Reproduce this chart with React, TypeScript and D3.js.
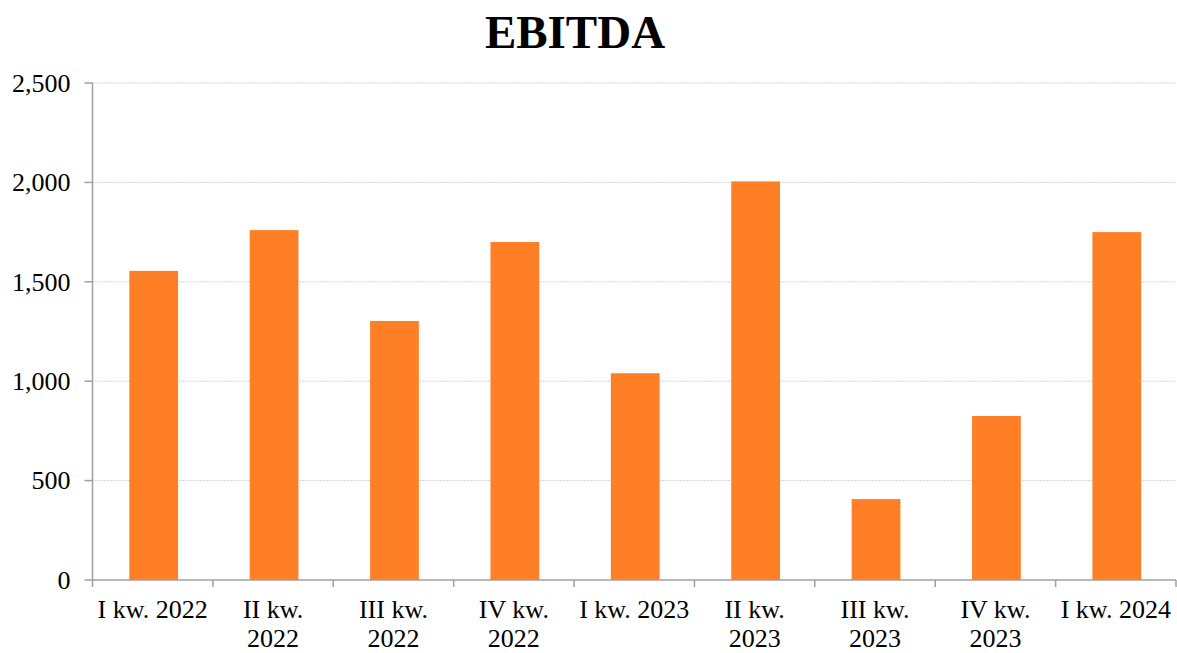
import React from 'react';
import * as d3 from 'd3';

const categories = [
  'I kw. 2022',
  'II kw. 2022',
  'III kw. 2022',
  'IV kw. 2022',
  'I kw. 2023',
  'II kw. 2023',
  'III kw. 2023',
  'IV kw. 2023',
  'I kw. 2024',
];
const ebitda = [1555, 1760, 1303, 1700, 1040, 2005, 407, 825, 1750];
const yTicks = [0, 500, 1000, 1500, 2000, 2500];

const W = 1177;
const H = 653;
const margin = { top: 83, right: 1, left: 92.5, bottom: 73 };
const FONT = "'Liberation Serif', 'Times New Roman', serif";
const fmt = d3.format(',');

// split a label into lines that fit in the band width
function wrap(label: string, maxW: number): string[] {
  const ctx = document.createElement('canvas').getContext('2d');
  if (!ctx) return [label];
  ctx.font = `26px ${FONT}`;
  const words = label.split(' ');
  const lines: string[] = [];
  let cur = '';
  words.forEach(w => {
    const test = cur ? cur + ' ' + w : w;
    if (cur && ctx.measureText(test).width > maxW) {
      lines.push(cur);
      cur = w;
    } else {
      cur = test;
    }
  });
  if (cur) lines.push(cur);
  return lines;
}

export default function App() {
  const innerW = W - margin.left - margin.right;
  const innerH = H - margin.top - margin.bottom;

  const x = d3.scaleBand().domain(categories).range([0, innerW]).paddingInner(0).paddingOuter(0);
  const y = d3.scaleLinear().domain([0, 2500]).range([innerH, 0]);
  const barW = x.bandwidth() * 0.405;
  const axisColor = '#a0a0a0';

  return (
    <svg
      width={W}
      height={H}
      style={{ position: 'absolute', left: 0, top: 0, display: 'block', background: '#fff' }}
      fontFamily={FONT}
    >
      <text x={575} y={48} textAnchor="middle" fontSize={47} fontWeight="bold" fill="#000">
        EBITDA
      </text>
      <g transform={`translate(${margin.left},${margin.top})`}>
        {yTicks.map(t => (
          <g key={'y' + t}>
            {t > 0 && (
              <line x1={0} x2={innerW} y1={y(t)} y2={y(t)} stroke="#a8a8a8" strokeWidth={1} strokeDasharray="1,2" />
            )}
            <line x1={-8} x2={0} y1={y(t)} y2={y(t)} stroke={axisColor} strokeWidth={1.5} />
            <text x={-22} y={y(t)} dy="0.34em" textAnchor="end" fontSize={26} fill="#000">
              {fmt(t)}
            </text>
          </g>
        ))}
        {ebitda.map((v, i) => {
          const cx = (x(categories[i]) ?? 0) + x.bandwidth() / 2 + 1;
          return (
            <rect key={'b' + i} x={cx - barW / 2} y={y(v)} width={barW} height={innerH - y(v)} fill="#ff7f27" />
          );
        })}
        <line x1={0} x2={0} y1={0} y2={innerH + 7} stroke={axisColor} strokeWidth={1.5} />
        <line x1={0} x2={innerW} y1={innerH} y2={innerH} stroke={axisColor} strokeWidth={1.5} />
        {categories.map((c, i) => {
          const x0 = (x(c) ?? 0) + x.bandwidth();
          const lines = wrap(c, x.bandwidth() - 2);
          const cx = (x(c) ?? 0) + x.bandwidth() / 2;
          return (
            <g key={'x' + i}>
              <line x1={x0} x2={x0} y1={innerH} y2={innerH + 7} stroke={axisColor} strokeWidth={1.5} />
              <text x={cx} y={innerH + 38} textAnchor="middle" fontSize={26} fill="#000">
                {lines.map((l, j) => (
                  <tspan key={j} x={cx} dy={j === 0 ? 0 : 29}>
                    {l}
                  </tspan>
                ))}
              </text>
            </g>
          );
        })}
      </g>
    </svg>
  );
}
